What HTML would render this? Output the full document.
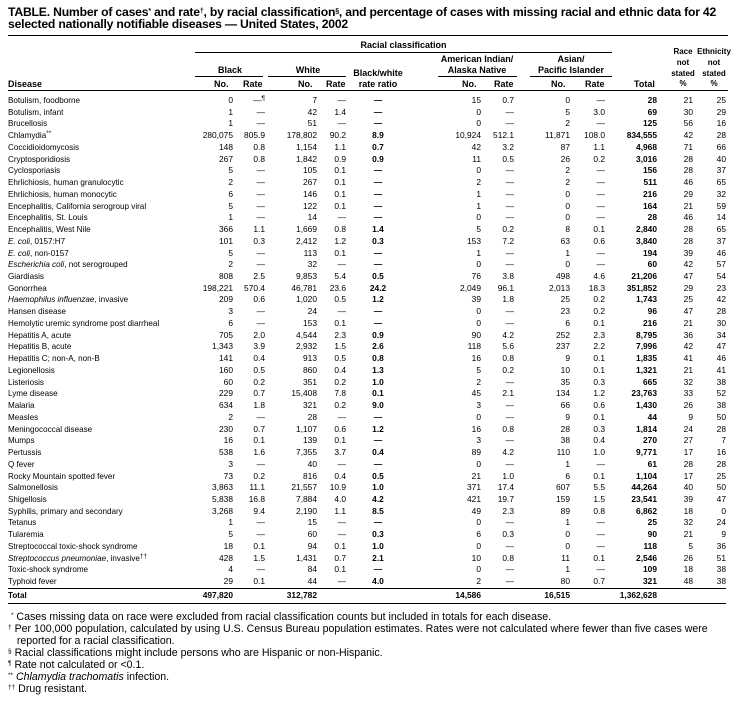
<!DOCTYPE html>
<html><head><meta charset="utf-8">
<style>
body{margin:0;background:#fff;width:736px;height:701px;overflow:hidden;font-family:"Liberation Sans",Arial,sans-serif;color:#000;}
.a{position:absolute;white-space:nowrap;}
.t{font-weight:bold;font-size:12.2px;left:8px;line-height:12px;letter-spacing:-0.2px}
.h{font-weight:bold;font-size:9px;line-height:10.5px;}
.c{text-align:center;}
.ln{position:absolute;background:#000;height:1px;}
table{position:absolute;left:8px;top:95px;border-collapse:collapse;table-layout:fixed;font-size:8.4px;}
td{padding:0;height:11.73px;line-height:11.73px;text-align:right;white-space:nowrap;}
td:first-child{text-align:left;font-size:8.1px;}
td:nth-child(6){text-align:center;font-weight:bold;}
td:nth-child(11){font-weight:bold;}
tr.tot td{font-weight:bold;height:14px;border-top:1px solid #000;border-bottom:1px solid #000;}
.f{font-size:10.6px;left:8px;line-height:12px;letter-spacing:0px}
sup{font-size:6.5px;vertical-align:3px;line-height:0}
.t sup{font-size:7px}
.rs{font-weight:bold;font-size:8px;line-height:10.8px;text-align:center}
</style></head><body>
<div class="a t" style="top:6px">TABLE. Number of cases<sup>*</sup> and rate<sup>†</sup>, by racial classification<sup>§</sup>, and percentage of cases with missing racial and ethnic data for 42</div>
<div class="a t" style="top:18px">selected nationally notifiable diseases — United States, 2002</div>
<div class="ln" style="left:8px;top:35px;width:720px"></div>
<div class="a h c" style="left:195px;width:417px;top:40px">Racial classification</div>
<div class="ln" style="left:195px;top:52px;width:417px"></div>
<div class="a h c" style="left:195px;width:70px;top:65px">Black</div>
<div class="ln" style="left:195px;top:76px;width:68px"></div>
<div class="a h c" style="left:268px;width:80px;top:65px">White</div>
<div class="ln" style="left:268px;top:76px;width:78px"></div>
<div class="a h c" style="left:346px;width:64px;top:68px">Black/white<br>rate ratio</div>
<div class="a h c" style="left:433px;width:88px;top:54px">American Indian/<br>Alaska Native</div>
<div class="ln" style="left:438px;top:76px;width:79px"></div>
<div class="a h c" style="left:526px;width:90px;top:54px">Asian/<br>Pacific Islander</div>
<div class="ln" style="left:530px;top:76px;width:82px"></div>
<div class="a rs" style="left:666px;width:34px;top:47px">Race<br>not<br>stated<br>%</div>
<div class="a rs" style="left:694px;width:40px;top:47px">Ethnicity<br>not<br>stated<br>%</div>
<div class="a h" style="left:8px;top:79px">Disease</div>
<div class="a h" style="left:214px;top:79px">No.</div>
<div class="a h" style="left:243px;top:79px">Rate</div>
<div class="a h" style="left:298px;top:79px">No.</div>
<div class="a h" style="left:326px;top:79px">Rate</div>
<div class="a h" style="left:462px;top:79px">No.</div>
<div class="a h" style="left:494px;top:79px">Rate</div>
<div class="a h" style="left:551px;top:79px">No.</div>
<div class="a h" style="left:585px;top:79px">Rate</div>
<div class="a h" style="left:634px;top:79px">Total</div>
<div class="ln" style="left:8px;top:90px;width:720px"></div>
<table>
<colgroup><col style="width:192px"><col style="width:33px"><col style="width:32px"><col style="width:52px"><col style="width:29px"><col style="width:64px"><col style="width:71px"><col style="width:33px"><col style="width:56px"><col style="width:35px"><col style="width:52px"><col style="width:36px"><col style="width:33px"></colgroup>
<tr><td>Botulism, foodborne</td><td>0</td><td>—<sup>¶</sup></td><td>7</td><td>—</td><td>—</td><td>15</td><td>0.7</td><td>0</td><td>—</td><td>28</td><td>21</td><td>25</td></tr>
<tr><td>Botulism, infant</td><td>1</td><td>—</td><td>42</td><td>1.4</td><td>—</td><td>0</td><td>—</td><td>5</td><td>3.0</td><td>69</td><td>30</td><td>29</td></tr>
<tr><td>Brucellosis</td><td>1</td><td>—</td><td>51</td><td>—</td><td>—</td><td>0</td><td>—</td><td>2</td><td>—</td><td>125</td><td>56</td><td>16</td></tr>
<tr><td>Chlamydia<sup>**</sup></td><td>280,075</td><td>805.9</td><td>178,802</td><td>90.2</td><td>8.9</td><td>10,924</td><td>512.1</td><td>11,871</td><td>108.0</td><td>834,555</td><td>42</td><td>28</td></tr>
<tr><td>Coccidioidomycosis</td><td>148</td><td>0.8</td><td>1,154</td><td>1.1</td><td>0.7</td><td>42</td><td>3.2</td><td>87</td><td>1.1</td><td>4,968</td><td>71</td><td>66</td></tr>
<tr><td>Cryptosporidiosis</td><td>267</td><td>0.8</td><td>1,842</td><td>0.9</td><td>0.9</td><td>11</td><td>0.5</td><td>26</td><td>0.2</td><td>3,016</td><td>28</td><td>40</td></tr>
<tr><td>Cyclosporiasis</td><td>5</td><td>—</td><td>105</td><td>0.1</td><td>—</td><td>0</td><td>—</td><td>2</td><td>—</td><td>156</td><td>28</td><td>37</td></tr>
<tr><td>Ehrlichiosis, human granulocytic</td><td>2</td><td>—</td><td>267</td><td>0.1</td><td>—</td><td>2</td><td>—</td><td>2</td><td>—</td><td>511</td><td>46</td><td>65</td></tr>
<tr><td>Ehrlichiosis, human monocytic</td><td>6</td><td>—</td><td>146</td><td>0.1</td><td>—</td><td>1</td><td>—</td><td>0</td><td>—</td><td>216</td><td>29</td><td>32</td></tr>
<tr><td>Encephalitis, California serogroup viral</td><td>5</td><td>—</td><td>122</td><td>0.1</td><td>—</td><td>1</td><td>—</td><td>0</td><td>—</td><td>164</td><td>21</td><td>59</td></tr>
<tr><td>Encephalitis, St. Louis</td><td>1</td><td>—</td><td>14</td><td>—</td><td>—</td><td>0</td><td>—</td><td>0</td><td>—</td><td>28</td><td>46</td><td>14</td></tr>
<tr><td>Encephalitis, West Nile</td><td>366</td><td>1.1</td><td>1,669</td><td>0.8</td><td>1.4</td><td>5</td><td>0.2</td><td>8</td><td>0.1</td><td>2,840</td><td>28</td><td>65</td></tr>
<tr><td><i>E. coli</i>, 0157:H7</td><td>101</td><td>0.3</td><td>2,412</td><td>1.2</td><td>0.3</td><td>153</td><td>7.2</td><td>63</td><td>0.6</td><td>3,840</td><td>28</td><td>37</td></tr>
<tr><td><i>E. coli</i>, non-0157</td><td>5</td><td>—</td><td>113</td><td>0.1</td><td>—</td><td>1</td><td>—</td><td>1</td><td>—</td><td>194</td><td>39</td><td>46</td></tr>
<tr><td><i>Escherichia coli</i>, not serogrouped</td><td>2</td><td>—</td><td>32</td><td>—</td><td>—</td><td>0</td><td>—</td><td>0</td><td>—</td><td>60</td><td>42</td><td>57</td></tr>
<tr><td>Giardiasis</td><td>808</td><td>2.5</td><td>9,853</td><td>5.4</td><td>0.5</td><td>76</td><td>3.8</td><td>498</td><td>4.6</td><td>21,206</td><td>47</td><td>54</td></tr>
<tr><td>Gonorrhea</td><td>198,221</td><td>570.4</td><td>46,781</td><td>23.6</td><td>24.2</td><td>2,049</td><td>96.1</td><td>2,013</td><td>18.3</td><td>351,852</td><td>29</td><td>23</td></tr>
<tr><td><i>Haemophilus influenzae</i>, invasive</td><td>209</td><td>0.6</td><td>1,020</td><td>0.5</td><td>1.2</td><td>39</td><td>1.8</td><td>25</td><td>0.2</td><td>1,743</td><td>25</td><td>42</td></tr>
<tr><td>Hansen disease</td><td>3</td><td>—</td><td>24</td><td>—</td><td>—</td><td>0</td><td>—</td><td>23</td><td>0.2</td><td>96</td><td>47</td><td>28</td></tr>
<tr><td>Hemolytic uremic syndrome post diarrheal</td><td>6</td><td>—</td><td>153</td><td>0.1</td><td>—</td><td>0</td><td>—</td><td>6</td><td>0.1</td><td>216</td><td>21</td><td>30</td></tr>
<tr><td>Hepatitis A, acute</td><td>705</td><td>2.0</td><td>4,544</td><td>2.3</td><td>0.9</td><td>90</td><td>4.2</td><td>252</td><td>2.3</td><td>8,795</td><td>36</td><td>34</td></tr>
<tr><td>Hepatitis B, acute</td><td>1,343</td><td>3.9</td><td>2,932</td><td>1.5</td><td>2.6</td><td>118</td><td>5.6</td><td>237</td><td>2.2</td><td>7,996</td><td>42</td><td>47</td></tr>
<tr><td>Hepatitis C; non-A, non-B</td><td>141</td><td>0.4</td><td>913</td><td>0.5</td><td>0.8</td><td>16</td><td>0.8</td><td>9</td><td>0.1</td><td>1,835</td><td>41</td><td>46</td></tr>
<tr><td>Legionellosis</td><td>160</td><td>0.5</td><td>860</td><td>0.4</td><td>1.3</td><td>5</td><td>0.2</td><td>10</td><td>0.1</td><td>1,321</td><td>21</td><td>41</td></tr>
<tr><td>Listeriosis</td><td>60</td><td>0.2</td><td>351</td><td>0.2</td><td>1.0</td><td>2</td><td>—</td><td>35</td><td>0.3</td><td>665</td><td>32</td><td>38</td></tr>
<tr><td>Lyme disease</td><td>229</td><td>0.7</td><td>15,408</td><td>7.8</td><td>0.1</td><td>45</td><td>2.1</td><td>134</td><td>1.2</td><td>23,763</td><td>33</td><td>52</td></tr>
<tr><td>Malaria</td><td>634</td><td>1.8</td><td>321</td><td>0.2</td><td>9.0</td><td>3</td><td>—</td><td>66</td><td>0.6</td><td>1,430</td><td>26</td><td>38</td></tr>
<tr><td>Measles</td><td>2</td><td>—</td><td>28</td><td>—</td><td>—</td><td>0</td><td>—</td><td>9</td><td>0.1</td><td>44</td><td>9</td><td>50</td></tr>
<tr><td>Meningococcal disease</td><td>230</td><td>0.7</td><td>1,107</td><td>0.6</td><td>1.2</td><td>16</td><td>0.8</td><td>28</td><td>0.3</td><td>1,814</td><td>24</td><td>28</td></tr>
<tr><td>Mumps</td><td>16</td><td>0.1</td><td>139</td><td>0.1</td><td>—</td><td>3</td><td>—</td><td>38</td><td>0.4</td><td>270</td><td>27</td><td>7</td></tr>
<tr><td>Pertussis</td><td>538</td><td>1.6</td><td>7,355</td><td>3.7</td><td>0.4</td><td>89</td><td>4.2</td><td>110</td><td>1.0</td><td>9,771</td><td>17</td><td>16</td></tr>
<tr><td>Q fever</td><td>3</td><td>—</td><td>40</td><td>—</td><td>—</td><td>0</td><td>—</td><td>1</td><td>—</td><td>61</td><td>28</td><td>28</td></tr>
<tr><td>Rocky Mountain spotted fever</td><td>73</td><td>0.2</td><td>816</td><td>0.4</td><td>0.5</td><td>21</td><td>1.0</td><td>6</td><td>0.1</td><td>1,104</td><td>17</td><td>25</td></tr>
<tr><td>Salmonellosis</td><td>3,863</td><td>11.1</td><td>21,557</td><td>10.9</td><td>1.0</td><td>371</td><td>17.4</td><td>607</td><td>5.5</td><td>44,264</td><td>40</td><td>50</td></tr>
<tr><td>Shigellosis</td><td>5,838</td><td>16.8</td><td>7,884</td><td>4.0</td><td>4.2</td><td>421</td><td>19.7</td><td>159</td><td>1.5</td><td>23,541</td><td>39</td><td>47</td></tr>
<tr><td>Syphilis, primary and secondary</td><td>3,268</td><td>9.4</td><td>2,190</td><td>1.1</td><td>8.5</td><td>49</td><td>2.3</td><td>89</td><td>0.8</td><td>6,862</td><td>18</td><td>0</td></tr>
<tr><td>Tetanus</td><td>1</td><td>—</td><td>15</td><td>—</td><td>—</td><td>0</td><td>—</td><td>1</td><td>—</td><td>25</td><td>32</td><td>24</td></tr>
<tr><td>Tularemia</td><td>5</td><td>—</td><td>60</td><td>—</td><td>0.3</td><td>6</td><td>0.3</td><td>0</td><td>—</td><td>90</td><td>21</td><td>9</td></tr>
<tr><td>Streptococcal toxic-shock syndrome</td><td>18</td><td>0.1</td><td>94</td><td>0.1</td><td>1.0</td><td>0</td><td>—</td><td>0</td><td>—</td><td>118</td><td>5</td><td>36</td></tr>
<tr><td><i>Streptococcus pneumoniae</i>, invasive<sup>††</sup></td><td>428</td><td>1.5</td><td>1,431</td><td>0.7</td><td>2.1</td><td>10</td><td>0.8</td><td>11</td><td>0.1</td><td>2,546</td><td>26</td><td>51</td></tr>
<tr><td>Toxic-shock syndrome</td><td>4</td><td>—</td><td>84</td><td>0.1</td><td>—</td><td>0</td><td>—</td><td>1</td><td>—</td><td>109</td><td>18</td><td>38</td></tr>
<tr><td>Typhoid fever</td><td>29</td><td>0.1</td><td>44</td><td>—</td><td>4.0</td><td>2</td><td>—</td><td>80</td><td>0.7</td><td>321</td><td>48</td><td>38</td></tr>
<tr class="tot"><td>Total</td><td>497,820</td><td></td><td>312,782</td><td></td><td></td><td>14,586</td><td></td><td>16,515</td><td></td><td>1,362,628</td><td></td><td></td></tr>
</table>
<div class="a f" style="top:611px">&nbsp;<sup>*</sup> Cases missing data on race were excluded from racial classification counts but included in totals for each disease.</div>
<div class="a f" style="top:623px"><sup>†</sup> Per 100,000 population, calculated by using U.S. Census Bureau population estimates. Rates were not calculated where fewer than five cases were</div>
<div class="a f" style="top:635px">&nbsp;&nbsp;&nbsp;reported for a racial classification.</div>
<div class="a f" style="top:647px"><sup>§</sup> Racial classifications might include persons who are Hispanic or non-Hispanic.</div>
<div class="a f" style="top:659px"><sup>¶</sup> Rate not calculated or &lt;0.1.</div>
<div class="a f" style="top:671px"><sup>**</sup> <i>Chlamydia trachomatis</i> infection.</div>
<div class="a f" style="top:683px"><sup>††</sup> Drug resistant.</div>
</body></html>
